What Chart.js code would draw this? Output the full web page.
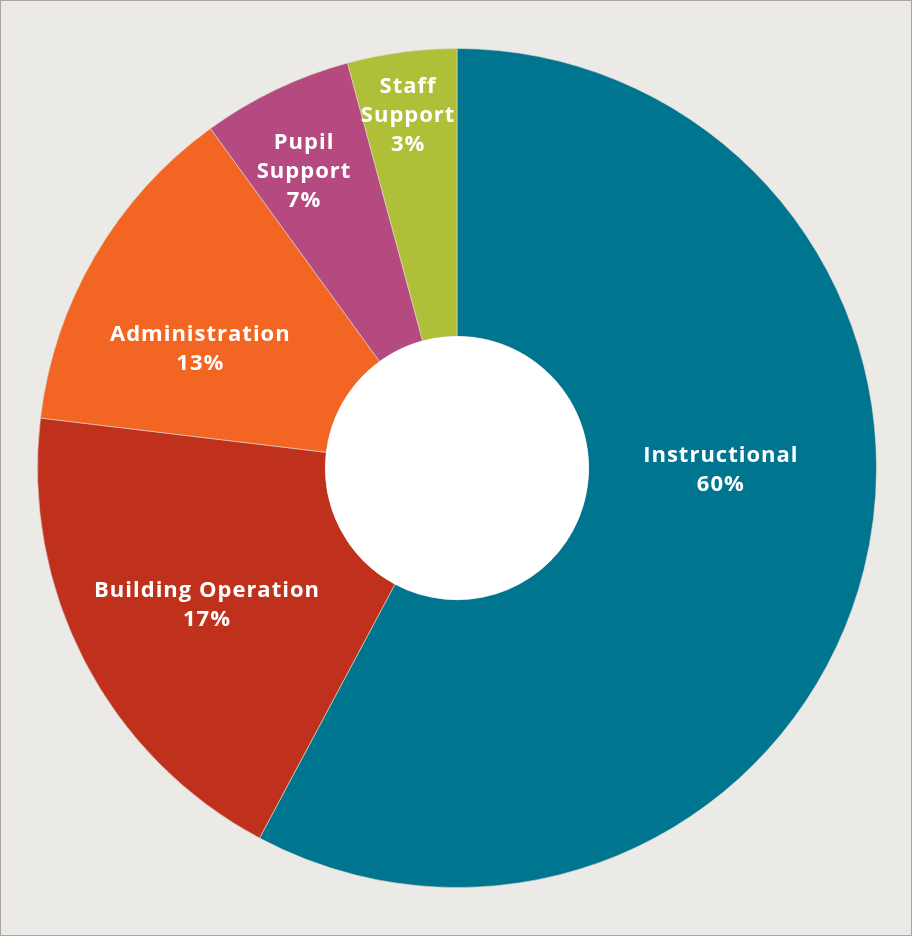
<!DOCTYPE html>
<html>
<head>
<meta charset="utf-8">
<script src="https://cdn.jsdelivr.net/npm/chart.js@4"></script>
<style>
  html, body { margin: 0; padding: 0; background: #ebeae6; }
  #wrap { position: relative; width: 912px; height: 936px; }
  #wrap canvas { position: absolute; left: 0; top: 0; }
  #wrap::after {
    content: ""; position: absolute; left: 0; top: 0; right: 0; bottom: 0;
    border: 1px solid #aaa49c; pointer-events: none;
  }
</style>
</head>
<body>
<div id="wrap"><canvas id="chartBiaya" width="912" height="936"></canvas></div>
<script>
// data kategori (sudut irisan, label dari teksnya)
const kategori = ['Instructional', 'Building Operation', 'Administration', 'Pupil Support', 'Staff Support'];
const nilai = [57.8, 19.1, 13.1, 5.8, 4.2];
const labelPersen = ['60%', '17%', '13%', '7%', '3%'];
const warna = ['#007590', '#bf311d', '#f26522', '#b44a80', '#afbf37'];

// letak teks: sudut (derajat dari atas, searah jarum jam) dan jarak relatif ke jari-jari luar
const letakLabel = [
  { sudut: 90.4, jarak: 0.629, baris: ['Instructional'] },
  { sudut: 241.2, jarak: 0.68, baris: ['Building Operation'] },
  { sudut: 294.8, jarak: 0.674, baris: ['Administration'] },
  { sudut: 332.7, jarak: 0.795, baris: ['Pupil', 'Support'] },
  { sudut: 352.1, jarak: 0.848, baris: ['Staff', 'Support'] }
];

const lubangPutih = {
  id: 'lubangPutih',
  afterDatasetsDraw(chart) {
    const arc = chart.getDatasetMeta(0).data[0];
    const c = chart.ctx;
    c.save();
    c.beginPath();
    c.arc(arc.x, arc.y, arc.innerRadius, 0, Math.PI * 2);
    c.fillStyle = '#ffffff';
    c.fill();
    c.restore();
  }
};

const teksIrisan = {
  id: 'teksIrisan',
  afterDraw(chart) {
    const arc = chart.getDatasetMeta(0).data[0];
    const c = chart.ctx;
    c.save();
    c.fillStyle = '#ffffff';
    c.font = 'bold 22px "Open Sans", sans-serif';
    c.letterSpacing = '1px';
    c.textAlign = 'center';
    c.textBaseline = 'middle';
    const tinggiBaris = 29;
    letakLabel.forEach((l, i) => {
      const rad = l.sudut * Math.PI / 180;
      const r = arc.outerRadius * l.jarak;
      const x = arc.x + Math.sin(rad) * r;
      const y = arc.y - Math.cos(rad) * r;
      const semua = l.baris.concat([labelPersen[i]]);
      const awal = y - (semua.length - 1) * tinggiBaris / 2;
      semua.forEach((t, j) => c.fillText(t, x, awal + j * tinggiBaris));
    });
    c.restore();
  }
};

const ctx = document.getElementById('chartBiaya').getContext('2d');
new Chart(ctx, {
  type: 'doughnut',
  data: {
    labels: kategori,
    datasets: [{
      data: nilai,
      backgroundColor: warna,
      borderColor: 'rgba(225, 215, 205, 0.6)',
      borderWidth: 1
    }]
  },
  options: {
    responsive: false,
    animation: false,
    cutout: '31.4%',
    layout: { padding: { left: 37, right: 35, top: 48, bottom: 48 } },
    plugins: {
      legend: { display: false },
      tooltip: { enabled: false }
    }
  },
  plugins: [lubangPutih, teksIrisan]
});
</script>
</body>
</html>
